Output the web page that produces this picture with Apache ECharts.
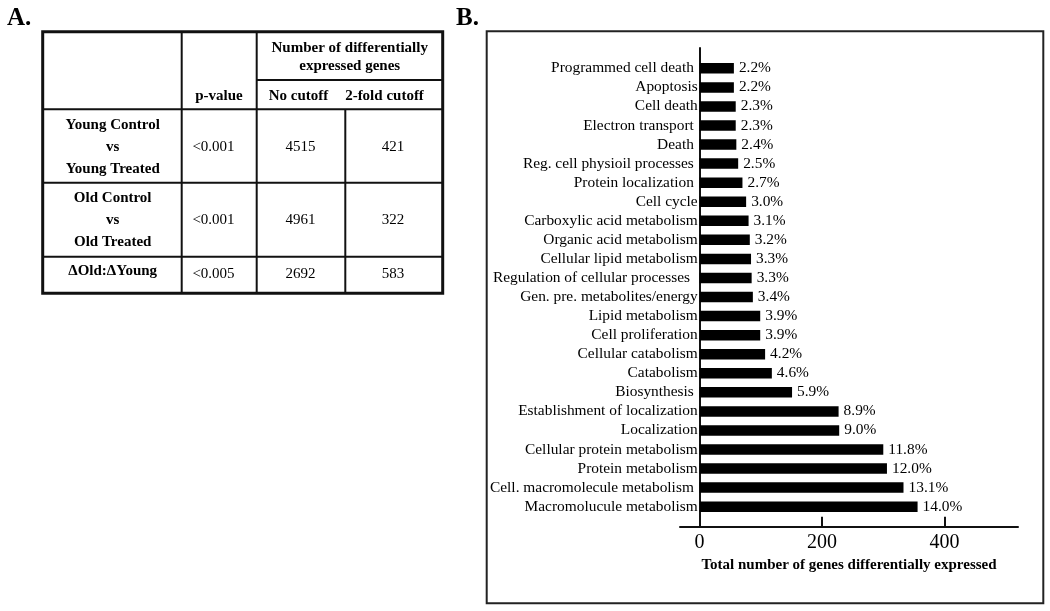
<!DOCTYPE html>
<html>
<head>
<meta charset="utf-8">
<script src="https://cdn.jsdelivr.net/npm/echarts@6/dist/echarts.min.js"></script>
<style>
html,body{margin:0;padding:0;background:#fff;}
#chart{width:1050px;height:611px;}
</style>
</head>
<body>
<div id="chart"></div>
<script>
// ---- Panel B data ----
const categories = [
  'Programmed cell death ', 'Apoptosis', 'Cell death', 'Electron transport ', 'Death ',
  'Reg. cell physioil processes ', 'Protein localization ', 'Cell cycle',
  'Carboxylic acid metabolism', 'Organic acid metabolism', 'Cellular lipid metabolism',
  'Regulation of cellular processes  ', 'Gen. pre. metabolites/energy', 'Lipid metabolism',
  'Cell proliferation', 'Cellular catabolism', 'Catabolism', 'Biosynthesis ',
  'Establishment of localization', 'Localization', 'Cellular protein metabolism',
  'Protein metabolism', 'Cell. macromolecule metabolism ', 'Macromolucule metabolism'
];
const geneCounts = [56, 56, 59, 59, 60, 63, 70, 76, 80, 82, 84, 85, 87, 99, 99, 107, 118, 151, 227, 228, 300, 306, 333, 356];
const percentLabels = ['2.2%', '2.2%', '2.3%', '2.3%', '2.4%', '2.5%', '2.7%', '3.0%', '3.1%', '3.2%', '3.3%', '3.3%', '3.4%', '3.9%', '3.9%', '4.2%', '4.6%', '5.9%', '8.9%', '9.0%', '11.8%', '12.0%', '13.1%', '14.0%'];
const xTickValues = [0, 200, 400];
const xAxisTitle = 'Total number of genes differentially expressed';

// ---- Panel A table data ----
const tableGroupHeader = ['Number of differentially', 'expressed genes'];
const tableColumnHeaders = ['p-value', 'No cutoff', '2-fold cutoff'];
const tableRowLabels = [['Young Control', 'vs', 'Young Treated'], ['Old Control', 'vs', 'Old Treated'], ['\u0394Old:\u0394Young']];
const tablePValues = ['<0.001', '<0.001', '<0.005'];
const tableNoCutoff = [4515, 4961, 2692];
const tableTwoFold = [421, 322, 583];
const panelLabels = ['A.', 'B.'];

const SERIF = '"Liberation Serif", "Times New Roman", serif';

function txt(x, y, text, size, bold, align) {
  const a = align || 'center';
  return {
    type: 'text', x: x, y: y, silent: true,
    style: {
      text: String(text), fill: '#000',
      font: (bold ? 'bold ' : '') + size + 'px ' + SERIF,
      align: a, textAlign: a, verticalAlign: 'middle', textVerticalAlign: 'middle'
    }
  };
}
function ln(x1, y1, x2, y2, w) {
  return { type: 'line', silent: true, shape: { x1: x1, y1: y1, x2: x2, y2: y2 }, style: { stroke: '#111', lineWidth: w } };
}

// table layout
const T = { l: 42.7, r: 442.7, t: 31.7, b: 293.3, c1: 181.7, c2: 256.7, c3: 345.3, hMid: 80, hBot: 109.3, r1: 182.7, r2: 256.7 };
const g = [];
g.push({ type: 'rect', silent: true, shape: { x: T.l, y: T.t, width: T.r - T.l, height: T.b - T.t }, style: { fill: 'none', stroke: '#111', lineWidth: 3 } });
g.push(ln(T.c1, T.t, T.c1, T.b, 2));
g.push(ln(T.c2, T.t, T.c2, T.b, 2));
g.push(ln(T.c3, T.hBot, T.c3, T.b, 2));
g.push(ln(T.c2, T.hMid, T.r, T.hMid, 2));
g.push(ln(T.l, T.hBot, T.r, T.hBot, 2));
g.push(ln(T.l, T.r1, T.r, T.r1, 2));
g.push(ln(T.l, T.r2, T.r, T.r2, 2));
// header texts
g.push(txt(349.7, 47.7, tableGroupHeader[0], 15, true));
g.push(txt(349.7, 66, tableGroupHeader[1], 15, true));
g.push(txt(219, 95.7, tableColumnHeaders[0], 15, true));
g.push(txt(298.5, 95.7, tableColumnHeaders[1], 15, true));
g.push(txt(384.5, 95.7, tableColumnHeaders[2], 15, true));
// body rows
const rowCenters = [147, 220, 273.5];
tableRowLabels.forEach(function (lines, i) {
  const cy = rowCenters[i];
  if (lines.length === 3) {
    g.push(txt(112.7, cy - 22, lines[0], 15, true));
    g.push(txt(112.7, cy, lines[1], 15, true));
    g.push(txt(112.7, cy + 22, lines[2], 15, true));
  } else {
    g.push(txt(112.7, cy - 2, lines[0], 15, true));
  }
  const vy = i === 2 ? cy + 1 : cy;
  g.push(txt(213.5, vy, tablePValues[i], 15, false));
  g.push(txt(300.5, vy, tableNoCutoff[i], 15, false));
  g.push(txt(393, vy, tableTwoFold[i], 15, false));
});
// panel labels
g.push(txt(7, 18.5, panelLabels[0], 25, true, 'left'));
g.push(txt(456, 18.5, panelLabels[1], 25, true, 'left'));
// panel B frame
g.push({ type: 'rect', silent: true, shape: { x: 486.7, y: 31.3, width: 556.6, height: 572 }, style: { fill: 'none', stroke: '#222', lineWidth: 2 } });

const chart = echarts.init(document.getElementById('chart'), null, { renderer: 'canvas' });
const option = {
  backgroundColor: '#fff',
  animation: false,
  textStyle: { fontFamily: SERIF, color: '#000' },
  grid: [
    { left: 680, right: 32, top: 58.8, bottom: 94.8, containLabel: false },
    { left: 680, right: 32, top: 48, bottom: 84, containLabel: false }
  ],
  xAxis: [
    {
      type: 'value', gridIndex: 0, min: -32, max: 520, offset: 10.5,
      axisLine: { show: true, onZero: false, lineStyle: { color: '#111', width: 2 } },
      axisTick: { show: true, inside: true, length: 10, customValues: xTickValues, lineStyle: { color: '#111', width: 2 } },
      axisLabel: { show: true, customValues: xTickValues, fontSize: 20, color: '#000', fontFamily: SERIF, margin: 6 },
      splitLine: { show: false },
      name: xAxisTitle, nameLocation: 'middle', nameGap: 30,
      nameTextStyle: { fontSize: 15, fontWeight: 'bold', color: '#000', fontFamily: SERIF }
    },
    { type: 'value', gridIndex: 1, min: -32, max: 520, show: false }
  ],
  yAxis: [
    {
      type: 'category', gridIndex: 0, data: categories, inverse: true,
      offset: -19.7,
      axisLine: { show: false, onZero: false },
      axisTick: { show: false },
      axisLabel: { interval: 0, fontSize: 15.4, color: '#000', fontFamily: SERIF, margin: 2 },
      splitLine: { show: false }
    },
    {
      type: 'value', gridIndex: 1, min: 0, max: 1,
      axisLine: { show: true, onZero: true, lineStyle: { color: '#111', width: 2 } },
      axisTick: { show: false }, axisLabel: { show: false }, splitLine: { show: false }
    }
  ],
  series: [{
    type: 'bar', xAxisIndex: 0, yAxisIndex: 0,
    data: geneCounts, barWidth: 10.5,
    itemStyle: { color: '#000' },
    label: {
      show: true, position: 'right', distance: 5,
      formatter: function (p) { return percentLabels[p.dataIndex]; },
      fontSize: 15.4, color: '#000', fontFamily: SERIF
    }
  }],
  graphic: { elements: g }
};
chart.setOption(option);
</script>
</body>
</html>
